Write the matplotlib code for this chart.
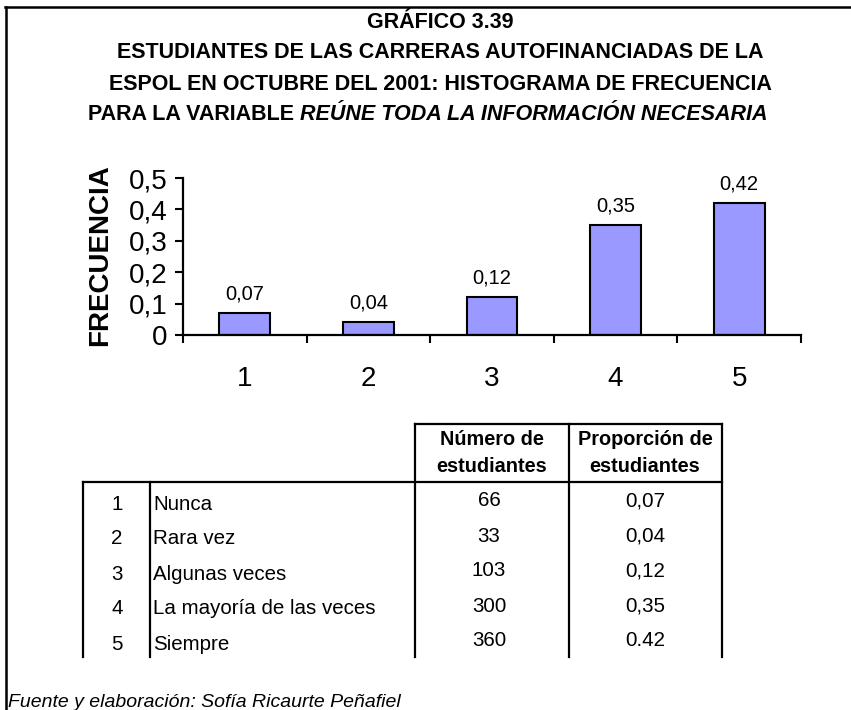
import matplotlib.pyplot as plt
from matplotlib.lines import Line2D

W, H = 851, 710

categories = [1, 2, 3, 4, 5]
frequencies = [0.07, 0.04, 0.12, 0.35, 0.42]
bar_labels = ["0,07", "0,04", "0,12", "0,35", "0,42"]
yticks = [0, 0.1, 0.2, 0.3, 0.4, 0.5]
ytick_labels = ["0", "0,1", "0,2", "0,3", "0,4", "0,5"]

answers = ["Nunca", "Rara vez", "Algunas veces", "La mayoría de las veces", "Siempre"]
n_students = [66, 33, 103, 300, 360]
prop_students = ["0,07", "0,04", "0,12", "0,35", "0.42"]

title_lines = [
    "GRÁFICO 3.39",
    "ESTUDIANTES DE LAS CARRERAS AUTOFINANCIADAS DE LA",
    "ESPOL EN OCTUBRE DEL 2001: HISTOGRAMA DE FRECUENCIA",
]
title_last = ("PARA LA VARIABLE ", "REÚNE TODA LA INFORMACIÓN NECESARIA")
source = "Fuente y elaboración: Sofía Ricaurte Peñafiel"

plt.rcParams["font.family"] = ["Liberation Sans", "DejaVu Sans"]

fig = plt.figure(figsize=(W / 100, H / 100), dpi=100)


def fx(px):
    return px / W


def fy(py):
    return 1 - py / H


def hline(y, x0, x1, lw=1.6):
    fig.add_artist(Line2D([fx(x0), fx(x1)], [fy(y), fy(y)], color="black", lw=lw))


def vline(x, y0, y1, lw=1.6):
    fig.add_artist(Line2D([fx(x), fx(x)], [fy(y0), fy(y1)], color="black", lw=lw))


# outer frame (top + left)
hline(7, 5, W, lw=1.8)
vline(6, 7, H, lw=1.8)

# title
title_size = 15.5
title_y = [23, 53, 84]
for txt, y in zip(title_lines, title_y):
    fig.text(fx(440), fy(y), txt, ha="center", va="center", fontsize=title_size,
             fontweight="bold")

t1 = fig.text(0, fy(115), title_last[0], ha="left", va="center", fontsize=title_size,
              fontweight="bold")
t2 = fig.text(0, fy(115), title_last[1], ha="left", va="center", fontsize=title_size,
              fontweight="bold", style="italic")
fig.canvas.draw()
r = fig.canvas.get_renderer()
w1 = t1.get_window_extent(r).width
w2 = t2.get_window_extent(r).width
start = 428 - (w1 + w2) / 2
t1.set_x(fx(start))
t2.set_x(fx(start + w1))

# bar chart
ax = fig.add_axes([fx(183), fy(335), fx(801) - fx(183), fy(178) - fy(335)])
ax.bar(categories, frequencies, width=0.41, color="#9999FF", edgecolor="black", linewidth=1.5)
for c, v, lab in zip(categories, frequencies, bar_labels):
    ax.annotate(lab, (c, v), xytext=(0, 14), textcoords="offset points",
                ha="center", va="center", fontsize=14.5)

ax.set_xlim(0.5, 5.5)
ax.set_ylim(0, 0.5)
ax.set_yticks(yticks)
ax.set_yticklabels(ytick_labels, fontsize=20)
ax.set_xticks(categories)
ax.set_xticklabels([str(c) for c in categories], fontsize=20)
ax.set_xticks([c - 0.5 for c in categories] + [categories[-1] + 0.5], minor=True)
ax.tick_params(axis="x", which="major", length=0, pad=22)
ax.tick_params(axis="x", which="minor", length=6, width=1.5, direction="out")
ax.tick_params(axis="y", length=6, width=1.5, direction="out", pad=5)
for s in ["top", "right"]:
    ax.spines[s].set_visible(False)
for s in ["left", "bottom"]:
    ax.spines[s].set_linewidth(1.6)
ax.patch.set_alpha(0)

fig.text(fx(100), fy(255), "FRECUENCIA", rotation=90, ha="center", va="center",
         fontsize=20, fontweight="bold")

# table
hline(424, 415, 722)
hline(482, 83, 722)
for x in [415, 569, 722]:
    vline(x, 424, 657)
for x in [83, 150]:
    vline(x, 482, 657)

head_size = 14.3
fig.text(fx(492), fy(440), "Número de", ha="center", va="center", fontsize=head_size, fontweight="bold")
fig.text(fx(492), fy(467), "estudiantes", ha="center", va="center", fontsize=head_size, fontweight="bold")
fig.text(fx(645), fy(440), "Proporción de", ha="center", va="center", fontsize=head_size, fontweight="bold")
fig.text(fx(645), fy(467), "estudiantes", ha="center", va="center", fontsize=head_size, fontweight="bold")

body_size = 14.8
for i, (c, a, n, p) in enumerate(zip(categories, answers, n_students, prop_students)):
    y = 504 + 35 * i
    fig.text(fx(117), fy(y), str(c), ha="center", va="center", fontsize=body_size)
    fig.text(fx(153), fy(y), a, ha="left", va="center", fontsize=body_size)
    fig.text(fx(489), fy(y - 3), str(n), ha="center", va="center", fontsize=body_size)
    fig.text(fx(645), fy(y - 3), p, ha="center", va="center", fontsize=body_size)

fig.text(fx(8), fy(707), source, ha="left", va="baseline", fontsize=14, style="italic")

fig.savefig("out.png", dpi=100)
